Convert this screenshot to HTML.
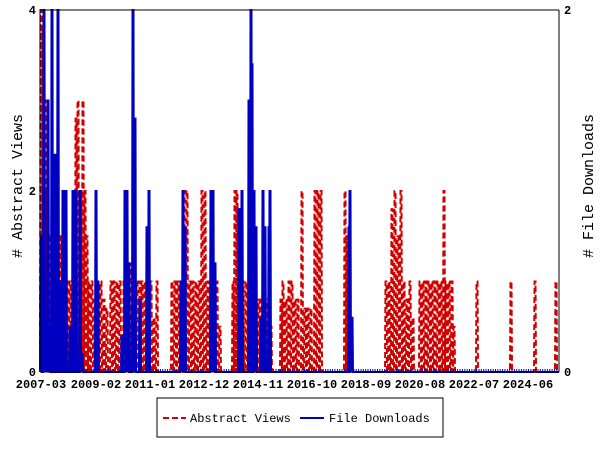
<!DOCTYPE html>
<html><head><meta charset="utf-8"><style>
body{margin:0;background:#fff;}
svg{display:block;font-family:"Liberation Mono","DejaVu Sans Mono",monospace;}
</style></head><body>
<svg id="s" width="600" height="450" xmlns="http://www.w3.org/2000/svg">
<rect width="600" height="450" fill="#fff"/>
<g id="red" fill="none" stroke="#d00000" stroke-width="2" stroke-dasharray="6,3"></g>
<g id="blue" fill="none" stroke="#0000c0" stroke-width="2"></g>
<line x1="40" y1="10" x2="559" y2="10" stroke="#000"/>
<line x1="40" y1="10" x2="40" y2="372" stroke="#000"/>
<line x1="559" y1="10" x2="559" y2="372" stroke="#000"/>
<line x1="40" y1="372" x2="559" y2="372" stroke="#000"/>
<g font-size="12" font-weight="bold" fill="#000">
<text x="36" y="14" text-anchor="end">4</text>
<text x="36" y="195" text-anchor="end">2</text>
<text x="36" y="376" text-anchor="end">0</text>
<text x="564" y="14">2</text>
<text x="564" y="376">0</text>
<g text-anchor="middle">
<text x="41" y="388">2007-03</text>
<text x="96" y="388">2009-02</text>
<text x="150" y="388">2011-01</text>
<text x="204" y="388">2012-12</text>
<text x="258" y="388">2014-11</text>
<text x="312" y="388">2016-10</text>
<text x="366" y="388">2018-09</text>
<text x="420" y="388">2020-08</text>
<text x="474" y="388">2022-07</text>
<text x="528" y="388">2024-06</text>
</g>
<text transform="translate(22,186) rotate(-90)" text-anchor="middle" font-size="15" font-weight="normal"># Abstract Views</text>
<text transform="translate(593,186) rotate(-90)" text-anchor="middle" font-size="15" font-weight="normal"># File Downloads</text>
</g>
<rect x="157" y="398" width="286" height="39" fill="#fff" stroke="#000"/>
<line x1="163" y1="418" x2="186" y2="418" stroke="#d00000" stroke-width="2" stroke-dasharray="6,3"/>
<text x="190" y="422" font-size="12">Abstract Views</text>
<line x1="300" y1="418" x2="324" y2="418" stroke="#0000c0" stroke-width="2"/>
<text x="329" y="422" font-size="12">File Downloads</text>
</svg>
<script>
var red=[[41,4],[43,3.8],[45,3],[47,2],[49,1.5],[52,2],[55,1.8],[58,1],[61,1.5],[64,1],[67,1],[70,1],[74,2],[76,2.8],[78,3],[81,2],[83,3],[85,2],[87,1.5],[89,1],[92,1],[95,0.8],[98,0.8],[101,1],[104,0.8],[107,0.7],[111,1],[114,1],[117,1],[120,1],[124,1],[128,1],[131,1.2],[134,1],[137,1],[140,1],[142,1],[145,1],[148,1],[151,1],[154,0.6],[157,1],[172,1],[175,1],[178,1],[181,1],[184,2],[187,2],[190,1],[193,1],[196,1],[199,1],[202,2],[205,2],[208,1],[211,1],[214,1],[217,1],[220,0.5],[233,1],[235,2],[237,2],[240,1.5],[243,1],[246,1],[249,1],[252,1],[255,0.8],[259,0.8],[262,0.8],[265,0.8],[268,0.8],[271,0.5],[281,0.8],[283,1],[286,0.8],[289,1],[292,1],[295,0.8],[298,0.8],[302,2],[305,0.7],[308,0.7],[311,0.7],[315,2],[318,2],[321,2],[345,2],[347,1.5],[349,1],[386,1],[389,1],[392,1.8],[395,2],[398,1.5],[401,2],[404,1],[407,0.8],[410,1],[413,0.6],[420,1],[423,1],[426,1],[429,1],[432,1],[435,1],[438,1],[441,1],[444,2],[446,1],[449,1],[452,1],[454,0.5],[477,1],[511,1],[535,1],[556,1]];
var blue=[[41,0.75],[44,2],[46,0.3],[48,1.5],[50,0.25],[52,2],[55,1.2],[58,2],[60,0.5],[63,1],[66,1],[70,0.25],[73,1],[76,1],[80,1],[82,0.1],[96,1],[98,0.5],[122,0.2],[125,1],[127,1],[129,0.6],[133,2],[135,1.4],[140,0.4],[147,0.8],[149,1],[181,0.5],[183,1],[185,0.8],[211,1],[213,1],[215,0.6],[239,0.9],[242,1],[249,1.5],[251,2],[252,1.7],[254,1],[256,0.8],[261,0.3],[263,1],[265,0.8],[269,0.8],[270,1],[349,0.8],[350,1],[352,0.3]];
function build(arr,scale,id){
 var d="M40,372";
 arr.forEach(function(p){var x=p[0],y=372-p[1]*scale;d+=" L"+(x-1)+",372 L"+(x-0.5)+","+y.toFixed(1)+" L"+(x+0.5)+","+y.toFixed(1)+" L"+(x+1)+",372";});
 d+=" L559,372";
 var e=document.createElementNS("http://www.w3.org/2000/svg","path");e.setAttribute("d",d);
 document.getElementById(id).appendChild(e);
}
build(red,90.5,"red");build(blue,181,"blue");
var t="";for(var x=40;x<=559;x+=2.36){t+="M"+x.toFixed(1)+",372 L"+x.toFixed(1)+",369 ";}
var g=document.createElementNS("http://www.w3.org/2000/svg","path");g.setAttribute("d",t);g.setAttribute("stroke","#0000c0");g.setAttribute("stroke-width","1");
document.getElementById("s").appendChild(g);
</script>
</body></html>
